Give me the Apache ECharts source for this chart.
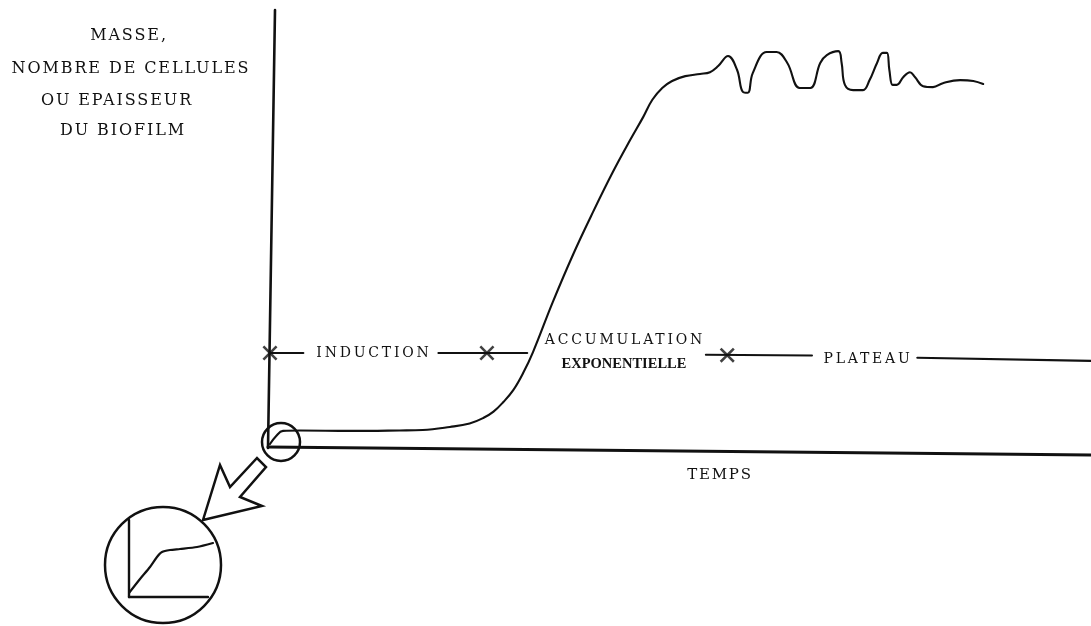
<!DOCTYPE html>
<html>
<head>
<meta charset="utf-8">
<script src="https://cdn.jsdelivr.net/npm/echarts@6/dist/echarts.min.js"></script>
<style>
  html, body { margin: 0; padding: 0; background: #ffffff; }
  #main { width: 1091px; height: 626px; }
</style>
</head>
<body>
<div id="main"></div>
<script>
// ---- Data (arbitrary units: time 0..100, quantity 0..100) ----
const yAxisLabelLines = ['MASSE,', 'NOMBRE DE CELLULES', 'OU EPAISSEUR', 'DU BIOFILM'];
const xAxisLabel = 'TEMPS';
const phaseNames = ['INDUCTION', 'ACCUMULATION', 'EXPONENTIELLE', 'PLATEAU'];

// hand-drawn axes
const verticalAxis = [[0.85, 100], [0, 0]];
const horizontalAxis = [[0, 0.2], [100, -1.6]];

// growth curve of the biofilm
const growthCurve = [
  [0.24, 0.9], [0.97, 2.7], [1.82, 3.9], [3.9, 4.0], [10.0, 3.9], [16.0, 4.0],
  [18.8, 4.1], [22.1, 4.8], [24.5, 5.6], [26.2, 6.9], [27.4, 8.3], [28.6, 10.5],
  [29.8, 13.2], [31.0, 17.1], [32.2, 21.9], [34.6, 33.3], [37.1, 44.3], [39.5, 53.9],
  [41.9, 63.0], [44.0, 70.3], [45.6, 75.6], [46.7, 79.5], [47.9, 82.2], [49.1, 83.8],
  [50.7, 84.9], [52.5, 85.4], [53.7, 85.8], [54.7, 87.2], [55.9, 89.5], [57.0, 86.3],
  [57.7, 81.3], [58.3, 81.1], [58.9, 85.6], [60.6, 90.4], [61.8, 90.4], [63.1, 87.9],
  [64.6, 82.2], [65.9, 82.2], [67.1, 87.9], [67.9, 89.7], [69.3, 90.6], [69.7, 87.9],
  [70.1, 82.9], [71.1, 81.7], [72.3, 81.7], [73.1, 84.0], [74.0, 87.9], [74.7, 90.2],
  [75.2, 90.2], [75.5, 86.3], [75.9, 82.9], [76.4, 82.9], [77.2, 84.7], [78.0, 85.8],
  [78.6, 84.7], [79.6, 82.6], [80.8, 82.4], [82.0, 83.3], [84.1, 84.0], [85.7, 83.8],
  [86.9, 83.1]
];

// phase bar segments and boundary marks
const phaseSegInduction1 = [[0.24, 21.7], [4.3, 21.7]];
const phaseSegInduction2 = [[20.7, 21.7], [31.5, 21.7]];
const phaseSegPlateau1 = [[53.2, 21.3], [66.1, 21.1]];
const phaseSegPlateau2 = [[78.9, 20.6], [100, 19.9]];
const phaseMarks = [[0.24, 21.7], [26.6, 21.7], [55.8, 21.2]];

// magnified inset (0..100 units)
const insetVertical = [[0, 100], [0, 0]];
const insetHorizontal = [[0, 0], [94, 0]];
const insetCurve = [
  [0, 5.2], [13.1, 23.4], [25, 39], [33.3, 51.9], [39.3, 58.4], [48.8, 61],
  [60.7, 62.3], [81, 64.9], [100, 70.1]
];

const INK = '#111111';
const SERIF = '"DejaVu Serif", "Liberation Serif", serif';

// letter-spaced lettering (canvas letterSpacing), chosen by font size
(function () {
  const proto = CanvasRenderingContext2D.prototype;
  if (!('letterSpacing' in proto)) return;
  const orig = proto.fillText;
  proto.fillText = function (t, x, y, w) {
    const f = this.font || '';
    let sp = '0px';
    if (f.indexOf('DejaVu Serif') >= 0) {
      if (f.indexOf('16px') >= 0) sp = '1.9px';
      else if (f.indexOf('15px') >= 0) sp = '1.8px';
      else if (f.indexOf('14px') >= 0) sp = '2.8px';
    }
    const prev = this.letterSpacing;
    this.letterSpacing = sp;
    const r = w === undefined ? orig.call(this, t, x, y) : orig.call(this, t, x, y, w);
    this.letterSpacing = prev;
    return r;
  };
})();

function lineSeries(data, width, xi, smooth) {
  return {
    type: 'line', data: data, xAxisIndex: xi, yAxisIndex: xi,
    showSymbol: false, symbol: 'none', clip: false, silent: true,
    smooth: smooth || false,
    lineStyle: { color: INK, width: width, cap: 'round', join: 'round' },
    animation: false
  };
}

const hiddenAxis = (gi, min, max) => ({
  type: 'value', gridIndex: gi, min: min, max: max,
  axisLine: { show: false }, axisTick: { show: false },
  axisLabel: { show: false }, splitLine: { show: false }
});

const chart = echarts.init(document.getElementById('main'));

function label(text, x, y, font) {
  return { type: 'text', x: x, y: y, silent: true,
    style: { text: text, font: font, fill: INK, textAlign: 'center', textVerticalAlign: 'middle' } };
}

const option = {
  backgroundColor: '#ffffff',
  animation: false,
  grid: [
    { left: 268, top: 10, width: 823, height: 459.9 },
    { left: 129, top: 520, width: 84, height: 77 }
  ],
  xAxis: [hiddenAxis(0, 0, 100), hiddenAxis(1, 0, 100)],
  yAxis: [hiddenAxis(0, -5, 100), hiddenAxis(1, 0, 100)],
  series: [
    lineSeries(verticalAxis, 2.6, 0),
    lineSeries(horizontalAxis, 3, 0),
    lineSeries(growthCurve, 2.1, 0, 0.4),
    lineSeries(phaseSegInduction1, 2, 0),
    lineSeries(phaseSegInduction2, 2, 0),
    lineSeries(phaseSegPlateau1, 2, 0),
    lineSeries(phaseSegPlateau2, 2.2, 0),
    {
      type: 'scatter', data: phaseMarks, xAxisIndex: 0, yAxisIndex: 0, clip: false, silent: true,
      symbol: 'path://M0,2.4 L2.4,0 L10,7.6 L17.6,0 L20,2.4 L12.4,10 L20,17.6 L17.6,20 L10,12.4 L2.4,20 L0,17.6 L7.6,10 Z',
      symbolSize: 15, itemStyle: { color: INK }
    },
    lineSeries(insetVertical, 2.4, 1),
    lineSeries(insetHorizontal, 2.4, 1),
    lineSeries(insetCurve, 2.2, 1, 0.25)
  ],
  graphic: [
    // y-axis title lines
    label(yAxisLabelLines[0], 129, 36, '16px ' + SERIF),
    label(yAxisLabelLines[1], 131, 69, '16px ' + SERIF),
    label(yAxisLabelLines[2], 117, 101, '16px ' + SERIF),
    label(yAxisLabelLines[3], 123, 131, '16px ' + SERIF),
    // x-axis title
    label(xAxisLabel, 720, 475, '15px ' + SERIF),
    // phase labels
    label(phaseNames[0], 374, 353, '14px ' + SERIF),
    label(phaseNames[1], 625, 340, '14px ' + SERIF),
    label(phaseNames[2], 624, 364, 'bold 14.5px "Liberation Serif", serif'),
    label(phaseNames[3], 868, 359, '14px ' + SERIF),
    // magnifier circles and arrow
    { type: 'circle', silent: true, shape: { cx: 281, cy: 442, r: 19 }, style: { fill: 'none', stroke: INK, lineWidth: 2.5 } },
    { type: 'circle', silent: true, shape: { cx: 163, cy: 565, r: 58 }, style: { fill: 'none', stroke: INK, lineWidth: 2.5 } },
    { type: 'polygon', silent: true, shape: { points: [[203, 520], [220, 465], [230, 487], [257, 458], [266, 467], [240, 497], [262, 506]] },
      style: { fill: '#ffffff', stroke: INK, lineWidth: 2.5, lineJoin: 'miter' } }
  ]
};

chart.setOption(option);
</script>
</body>
</html>
